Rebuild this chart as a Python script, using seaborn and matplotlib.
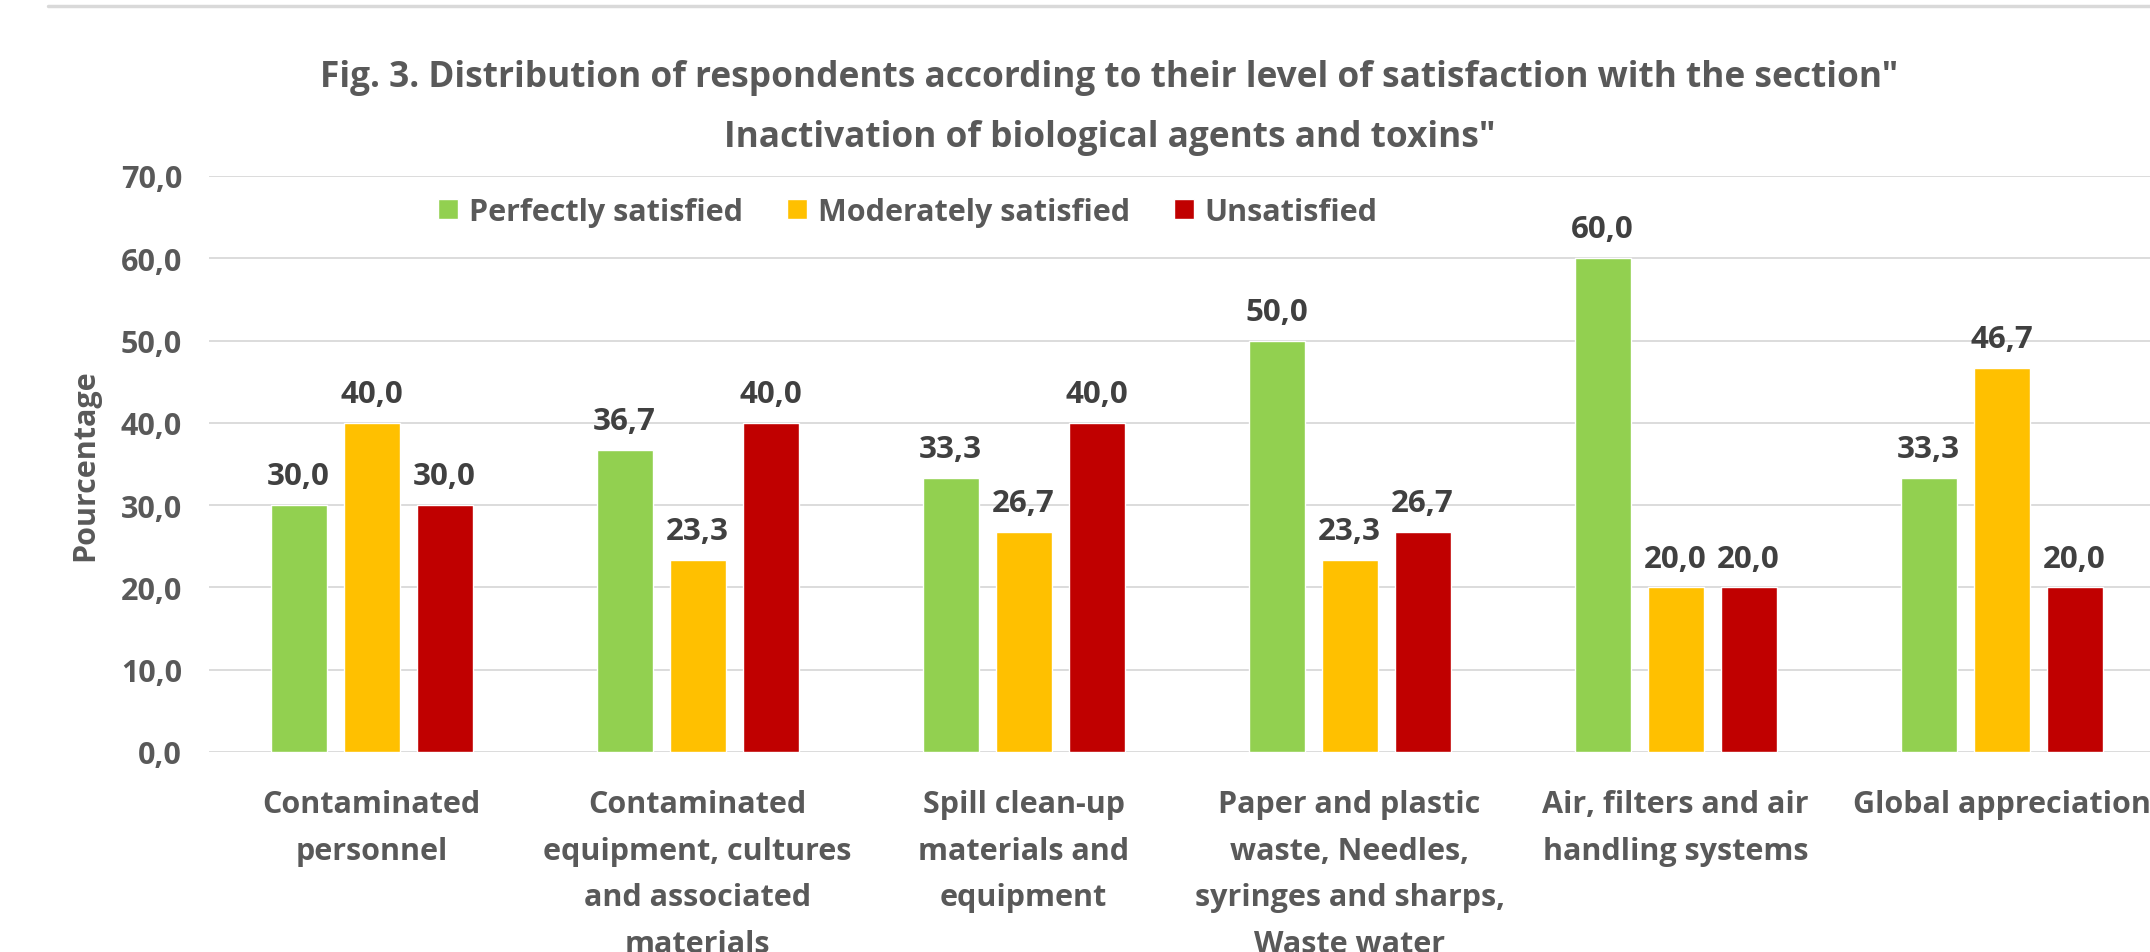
import matplotlib
matplotlib.use("Agg")
import matplotlib.pyplot as plt
from matplotlib.lines import Line2D
from matplotlib.ticker import FuncFormatter
import seaborn as sns
import pandas as pd

categories = [
    "Contaminated\npersonnel",
    "Contaminated\nequipment, cultures\nand associated\nmaterials",
    "Spill clean-up\nmaterials and\nequipment",
    "Paper and plastic\nwaste, Needles,\nsyringes and sharps,\nWaste water",
    "Air, filters and air\nhandling systems",
    "Global appreciation",
]
series_names = ["Perfectly satisfied", "Moderately satisfied", "Unsatisfied"]
perfectly = [30.0, 36.7, 33.3, 50.0, 60.0, 33.3]
moderately = [40.0, 23.3, 26.7, 23.3, 20.0, 46.7]
unsatisfied = [30.0, 40.0, 40.0, 26.7, 20.0, 20.0]
colors = ["#92D050", "#FFC000", "#C00000"]
yticks = [0, 10, 20, 30, 40, 50, 60, 70]
title = ('Fig. 3. Distribution of respondents according to their level of satisfaction with the section"\n'
         'Inactivation of biological agents and toxins"')
ylabel = "Pourcentage"

rows = []
for name, vals in zip(series_names, [perfectly, moderately, unsatisfied]):
    for cat, v in zip(categories, vals):
        rows.append({"Category": cat, "Series": name, "Value": v})
df = pd.DataFrame(rows)

sns.set_theme(style="white")
plt.rcParams["font.family"] = ["Open Sans", "DejaVu Sans"]
plt.rcParams["font.weight"] = "bold"

fig = plt.figure(figsize=(21.5, 9.53), dpi=100)
ax = fig.add_axes([0.097, 0.2099, 0.9098, 0.6044])

sns.barplot(data=df, x="Category", y="Value", hue="Series", order=categories,
            hue_order=series_names, palette=dict(zip(series_names, colors)),
            saturation=1, width=0.672, gap=0.233, ax=ax, legend=True)

ax.set_ylim(0, 70)
ax.set_xlim(-0.5, len(categories) - 0.5)
ax.set_yticks(yticks)
ax.yaxis.set_major_formatter(FuncFormatter(lambda v, p: f"{v:.1f}".replace(".", ",")))
ax.grid(axis="y", color="#D9D9D9", linewidth=1.3)
ax.set_axisbelow(True)
for s in ax.spines.values():
    s.set_visible(False)

ax.tick_params(axis="y", length=0, pad=19, labelsize=22, labelcolor="#595959")
ax.tick_params(axis="x", length=0, pad=27, labelsize=22, labelcolor="#595959")
for lab in ax.get_xticklabels():
    lab.set_linespacing(1.715)
    lab.set_fontweight("bold")
for lab in ax.get_yticklabels():
    lab.set_fontweight("bold")

ax.set_xlabel("")
ax.set_ylabel(ylabel, fontsize=22, fontweight="bold", color="#595959", labelpad=15)

for cont in ax.containers:
    ax.bar_label(cont, labels=[f"{v:.1f}".replace(".", ",") for v in cont.datavalues],
                 padding=10, fontsize=22.5, fontweight="bold", color="#404040")

handles, labels = ax.get_legend_handles_labels()
ax.legend(handles, labels, loc="center", bbox_to_anchor=(0.3576, 0.9375), ncol=3,
          frameon=False, labelcolor="#595959", handlelength=0.65,
          handleheight=0.65, handletextpad=0.35, columnspacing=1.45,
          prop={"weight": "bold", "size": 22})

fig.text(0.516, 1 - 108 / 953, title, ha="center", va="center", fontsize=25.4,
         fontweight="bold", color="#595959", linespacing=1.86)

fig.add_artist(Line2D([48 / 2150, 1.0], [1 - 7 / 953, 1 - 7 / 953],
                      transform=fig.transFigure, color="#D9D9D9", linewidth=2.5))

fig.savefig("out.png", dpi=100)
